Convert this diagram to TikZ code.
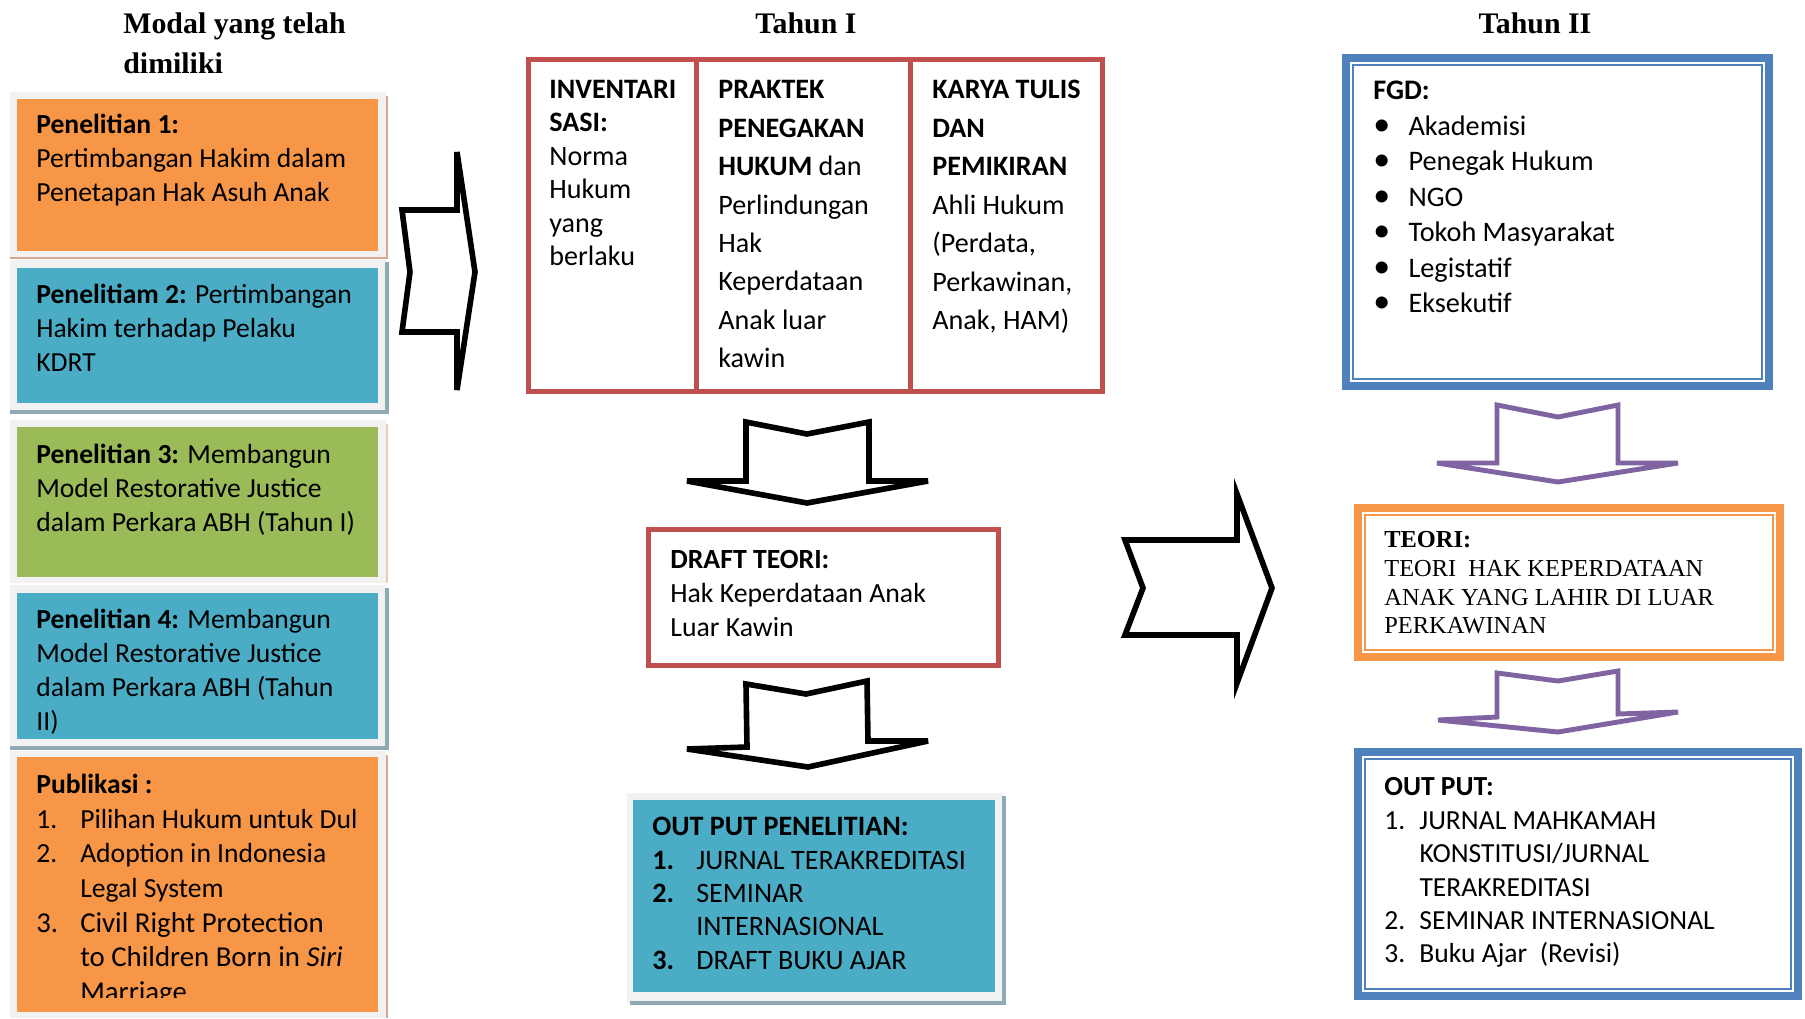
\documentclass[tikz,border=0pt]{standalone}
\usepackage{fontspec}
\setmainfont{Carlito}
\newfontfamily\timesfont{Liberation Serif}
\usetikzlibrary{calc}
\definecolor{boxorange}{HTML}{F79646}
\definecolor{boxblue}{HTML}{4BACC6}
\definecolor{boxgreen}{HTML}{9BBB59}
\definecolor{framegray}{HTML}{F2F2F2}
\definecolor{tablered}{HTML}{C0504D}
\definecolor{lineblue}{HTML}{4F81BD}
\definecolor{linepurple}{HTML}{8064A2}
\definecolor{shadetan}{HTML}{D6A88B}
\definecolor{shadeblue}{HTML}{8FAAB5}
\newcommand{\itm}[2][25pt]{\makebox[#1][l]{#2}}

\begin{document}
\begin{tikzpicture}[x=0.02cm, y=-0.02cm, line join=miter,
	txt/.style={anchor=north west, inner sep=0pt, align=left, font=\fontsize{15.7}{19.3}\selectfont},
	head/.style={inner sep=0pt, align=left, font=\timesfont\bfseries\fontsize{17}{22.5}\selectfont},
	frame/.style={fill=framegray},
	blkarrow/.style={draw=black, line width=3.2pt, fill=white, miter limit=6},
	purplearrow/.style={draw=linepurple, line width=2.8pt, fill=white, miter limit=6}]
	
	\useasboundingbox (0,0) rectangle (1805,1018);
	\fill[white] (0,0) rectangle (1805,1018);
	
	%========================
	% headers
	%========================
	\node[head, anchor=north west] (modal) at (123,12.5) {Modal yang telah\\dimiliki};
	\node[head] (tahun1) at (806,23) {Tahun I};
	\node[head] (tahun2) at (1535,23) {Tahun II};
	
	%========================
	% Left: modal yang telah dimiliki
	%========================
	% frames and shadows
	\fill[frame] (10,92) rectangle (386,258);
	\draw[shadetan, line width=1.2pt] (10,258) -- (387,258) -- (387,96);
	\fill[boxorange] (17,99) rectangle (378,251);
	
	\fill[frame] (10,260) rectangle (386,412);
	\draw[shadeblue, line width=1.8pt] (10,412) -- (387,412) -- (387,262);
	\fill[boxblue] (17,268) rectangle (378,403);
	
	\fill[frame] (10,420) rectangle (386,583);
	\draw[shadetan!60, line width=1pt] (387,424) -- (387,583);
	\fill[boxgreen] (17,427) rectangle (378,577);
	
	\fill[frame] (10,585) rectangle (386,748);
	\draw[shadeblue, line width=1.8pt] (10,748) -- (387,748) -- (387,588);
	\fill[boxblue] (17,593) rectangle (378,739);
	
	\fill[frame] (10,751) rectangle (386,1018);
	\draw[shadetan, line width=1.2pt] (387,755) -- (387,1018);
	\fill[boxorange] (17,757) rectangle (378,1012);
	
	\node[txt] (pen1) at (36,114) {\textbf{Penelitian 1:}\\Pertimbangan Hakim dalam\\Penetapan Hak Asuh Anak};
	\node[txt] (pen2) at (36,284) {\textbf{Penelitiam 2:} Pertimbangan\\Hakim terhadap Pelaku\\KDRT};
	\node[txt] (pen3) at (36,444) {\textbf{Penelitian 3:} Membangun\\Model Restorative Justice\\dalam Perkara ABH (Tahun I)};
	\node[txt] (pen4) at (36,609) {\textbf{Penelitian 4:} Membangun\\Model Restorative Justice\\dalam Perkara ABH (Tahun\\II)};
	\begin{scope}
		\clip (17,757) rectangle (378,997);
		\node[txt, font=\fontsize{15.7}{19.7}\selectfont] (publikasi) at (36,774) {\textbf{Publikasi :}\\
			\itm{1.}Pilihan Hukum untuk Dul\\
			\itm{2.}Adoption in Indonesia\\
			\itm{}Legal System\\
			{\fontsize{16.4}{19.7}\selectfont\itm{3.}Civil Right Protection}\\
			{\fontsize{16.4}{19.7}\selectfont\itm{}to Children Born in \textit{Siri}}\\
			{\fontsize{16.4}{19.7}\selectfont\itm{}Marriage}};
	\end{scope}
	
	% notched arrow into Tahun I
	\draw[blkarrow] (402,210) -- (457,210) -- (457,152) -- (475,272) -- (457,390)
	-- (457,332) -- (402,332) -- (410,272) -- cycle;
	
	%========================
	% Middle: Tahun I
	%========================
	\draw[tablered, line width=2.8pt] (528.5,59.5) rectangle (1102.5,391.5);
	\draw[tablered, line width=2.8pt] (696.5,59.5) -- (696.5,391.5);
	\draw[tablered, line width=2.8pt] (910.5,59.5) -- (910.5,391.5);
	
	\node[txt, font=\fontsize{16}{19}\selectfont] (inventarisasi) at (549,80) {\textbf{INVENTARI}\\\textbf{SASI:}\\Norma\\Hukum\\yang\\berlaku};
	\node[txt, font=\fontsize{16}{21.9}\selectfont] (praktek) at (718,80) {\textbf{PRAKTEK}\\\textbf{PENEGAKAN}\\\textbf{HUKUM} dan\\Perlindungan\\Hak\\Keperdataan\\Anak luar\\kawin};
	\node[txt, font=\fontsize{16}{21.9}\selectfont] (karya) at (932,80) {\textbf{KARYA TULIS}\\\textbf{DAN}\\\textbf{PEMIKIRAN}\\Ahli Hukum\\(Perdata,\\Perkawinan,\\Anak, HAM)};
	
	% down arrows
	\draw[blkarrow] (746,422) -- (807,434) -- (869,422) -- (869,481) -- (928,481)
	-- (807,503) -- (687,481) -- (746,481) -- cycle;
	
	\draw[tablered, line width=2.8pt] (648.5,529.5) rectangle (998.5,665.5);
	\node[txt, font=\fontsize{15.8}{19.6}\selectfont] (draft) at (670,549.5) {\textbf{DRAFT TEORI:}\\Hak Keperdataan Anak\\Luar Kawin};
	
	\draw[blkarrow] (746,684) -- (806,694) -- (867,681) -- (868,741) -- (928,741)
	-- (808,767) -- (687,749) -- (747,747) -- cycle;
	
	\fill[frame] (627,793) rectangle (1003,1003);
	\draw[shadeblue, line width=1.8pt] (630,1003) -- (1004,1003) -- (1004,796);
	\fill[boxblue] (633,800) rectangle (995,992);
	\node[txt, font=\fontsize{16}{19}\selectfont] (outputI) at (652,817) {\textbf{OUT PUT PENELITIAN:}\\
		\itm{\textbf{1.}}JURNAL TERAKREDITASI\\
		\itm{\textbf{2.}}SEMINAR\\
		\itm{}INTERNASIONAL\\
		\itm{\textbf{3.}}DRAFT BUKU AJAR};
	
	% big notched arrow into Tahun II
	\draw[blkarrow] (1125,540) -- (1237,540) -- (1237,494) -- (1272,588) -- (1237,683)
	-- (1237,635) -- (1125,635) -- (1143,588) -- cycle;
	
	%========================
	% Right: Tahun II
	%========================
	\draw[lineblue, line width=4.5pt] (1346,58) rectangle (1769,386);
	\draw[lineblue, line width=1pt] (1353,65) rectangle (1762,379);
	\node[txt, font=\fontsize{16.1}{20.2}\selectfont] (fgd) at (1373,81) {\textbf{FGD:}\\
		\itm[20pt]{\scalebox{1.2}{\textbullet}}Akademisi\\
		\itm[20pt]{\scalebox{1.2}{\textbullet}}Penegak Hukum\\
		\itm[20pt]{\scalebox{1.2}{\textbullet}}NGO\\
		\itm[20pt]{\scalebox{1.2}{\textbullet}}Tokoh Masyarakat\\
		\itm[20pt]{\scalebox{1.2}{\textbullet}}Legistatif\\
		\itm[20pt]{\scalebox{1.2}{\textbullet}}Eksekutif};
	
	\draw[purplearrow] (1497,405) -- (1558,417) -- (1618,405) -- (1618,463) -- (1678,463)
	-- (1558,482) -- (1437,463) -- (1497,463) -- cycle;
	
	\draw[boxorange, line width=4.5pt] (1358,508) rectangle (1780,657);
	\draw[boxorange, line width=1pt] (1365,515) rectangle (1773,650);
	\node[txt, font=\timesfont\fontsize{13.9}{16.4}\selectfont] (teori) at (1384,531) {\textbf{TEORI:}\\TEORI\ \ HAK KEPERDATAAN\\ANAK YANG LAHIR DI LUAR\\PERKAWINAN};
	
	\draw[purplearrow] (1497,673) -- (1558,681) -- (1618,671) -- (1618,714) -- (1678,712)
	-- (1558,732) -- (1438,720) -- (1497,717) -- cycle;
	
	\draw[lineblue, line width=4.5pt] (1358,752) rectangle (1798,996);
	\draw[lineblue, line width=1pt] (1365,759) rectangle (1791,989);
	\node[txt, font=\fontsize{15.7}{19}\selectfont] (outputII) at (1384,777.5) {\textbf{OUT PUT:}\\
		\itm[20pt]{1.}JURNAL MAHKAMAH\\
		\itm[20pt]{}KONSTITUSI/JURNAL\\
		\itm[20pt]{}TERAKREDITASI\\
		\itm[20pt]{2.}SEMINAR INTERNASIONAL\\
		\itm[20pt]{3.}Buku Ajar\ \ (Revisi)};
	
\end{tikzpicture}
\end{document}
